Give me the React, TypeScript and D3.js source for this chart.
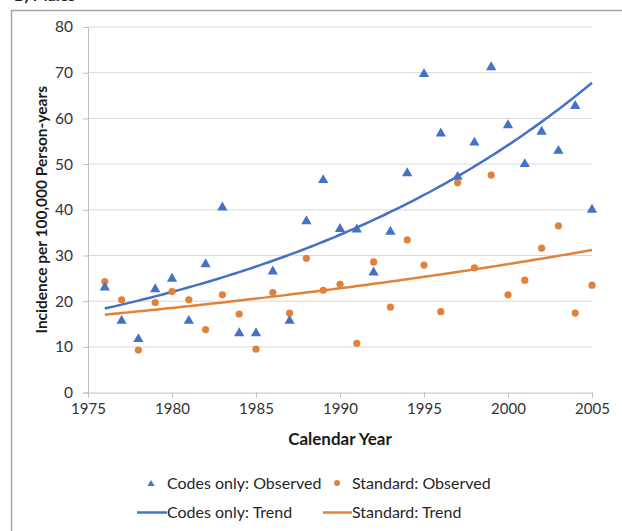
import * as d3 from "d3";
import React, { useRef, useEffect } from "react";

// values
const years = [
  1976, 1977, 1978, 1979, 1980, 1981, 1982, 1983, 1984, 1985,
  1986, 1987, 1988, 1989, 1990, 1991, 1992, 1993, 1994, 1995,
  1996, 1997, 1998, 1999, 2000, 2001, 2002, 2003, 2004, 2005,
];
const codesOnlyObserved = [
  23.0, 15.7, 11.7, 22.6, 24.9, 15.7, 28.1, 40.5, 13.0, 13.0,
  26.5, 15.7, 37.5, 46.5, 35.8, 35.7, 26.3, 35.2, 48.0, 69.7,
  56.7, 47.2, 54.7, 71.2, 58.5, 50.0, 57.1, 52.9, 62.7, 40.0,
];
const standardObserved = [
  24.3, 20.3, 9.3, 19.7, 22.1, 20.3, 13.8, 21.4, 17.2, 9.5,
  21.9, 17.4, 29.4, 22.4, 23.7, 10.8, 28.6, 18.7, 33.4, 27.9,
  17.7, 45.9, 27.3, 47.6, 21.4, 24.6, 31.6, 36.5, 17.4, 23.5,
];
// exponential trend lines: value at first and last year
const codesOnlyTrend = [18.4, 67.8];
const standardTrend = [17.05, 31.2];

const yTicks = [0, 10, 20, 30, 40, 50, 60, 70, 80];
const xTicks = [1975, 1980, 1985, 1990, 1995, 2000, 2005];

const BLUE = "#4472C4";
const ORANGE = "#E0823A";
const FONT = "Lato, 'Liberation Sans', sans-serif";

const W = 622, H = 531;
const m = { l: 88, r: 30, t: 27, b: 138.4 };

const App: React.FC = () => {
  const gx = useRef<SVGGElement>(null);
  const gy = useRef<SVGGElement>(null);

  const x = d3.scaleLinear([1975, 2005], [m.l, W - m.r]);
  const y = d3.scaleLinear([0, 80], [H - m.b, m.t]);

  useEffect(() => {
    if (gx.current) {
      const g = d3.select(gx.current);
      g.call(d3.axisBottom(x).tickValues(xTicks).tickFormat(d3.format("d")).tickSize(5).tickPadding(6));
      g.select(".domain").attr("stroke", "#bfbfbf");
      g.selectAll(".tick line").attr("stroke", "#bfbfbf");
      g.selectAll(".tick text").attr("fill", "#333").style("font-size", "15px").style("font-family", FONT);
    }
    if (gy.current) {
      const g = d3.select(gy.current);
      g.call(d3.axisLeft(y).tickValues(yTicks).tickSize(5).tickPadding(10));
      g.select(".domain").attr("stroke", "#bfbfbf");
      g.selectAll(".tick line").attr("stroke", "#bfbfbf");
      g.selectAll(".tick text").attr("fill", "#333").style("font-size", "15.5px").style("font-family", FONT);
    }
  }, [gx, gy]);

  const trend = (ends: number[]) => {
    const span = years[years.length - 1] - years[0];
    const pts = d3.range(years[0], years[years.length - 1] + 0.01, 0.25).map(t =>
      [t, ends[0] * Math.pow(ends[1] / ends[0], (t - years[0]) / span)] as [number, number]);
    return d3.line<[number, number]>().x(d => x(d[0])).y(d => y(d[1]))(pts) || "";
  };

  const tri = d3.symbol(d3.symbolTriangle, 46)() || "";
  const triSmall = d3.symbol(d3.symbolTriangle, 22)() || "";

  return (
    <svg width={W} height={H} style={{ position: "absolute", left: 0, top: 0, background: "#fff" }} fontFamily={FONT}>
      <text x={14} y={1} fontSize={16} fontWeight="bold" fill="#222">B) Males</text>
      <path d={`M11.5,${H} V10.5 H${W}`} fill="none" stroke="#a6a6a6" strokeWidth={1.5} />

      {yTicks.filter(v => v > 0).map(v => (
        <line key={v} x1={x(1975)} x2={x(2005)} y1={y(v)} y2={y(v)} stroke="#d9d9d9" strokeWidth={1} />
      ))}
      <g ref={gx} transform={`translate(0, ${H - m.b})`} />
      <g ref={gy} transform={`translate(${m.l}, 0)`} />

      <path d={trend(codesOnlyTrend)} fill="none" stroke={BLUE} strokeWidth={2.5} />
      <path d={trend(standardTrend)} fill="none" stroke={ORANGE} strokeWidth={2.5} />

      {years.map((yr, i) => (
        <circle key={"s" + yr} cx={x(yr)} cy={y(standardObserved[i])} r={3.6} fill={ORANGE} />
      ))}
      {years.map((yr, i) => (
        <path key={"c" + yr} d={tri} transform={`translate(${x(yr)}, ${y(codesOnlyObserved[i])})`} fill={BLUE} />
      ))}

      <text x={340} y={445} textAnchor="middle" fontSize={17} fontWeight="bold" fill="#1a1a1a">Calendar Year</text>
      <text transform={`translate(47, ${(y(0) + y(80)) / 2}) rotate(-90)`} textAnchor="middle" fontSize={15.5} fontWeight="bold" fill="#1a1a1a">
        Incidence per 100,000 Person-years
      </text>

      <g fontSize={16} fill="#262626">
        <path d={triSmall} transform="translate(151, 484)" fill={BLUE} />
        <text x={167} y={489}>Codes only: Observed</text>
        <circle cx={337} cy={483} r={3} fill={ORANGE} />
        <text x={352} y={489}>Standard: Observed</text>
        <line x1={137} x2={167} y1={512.5} y2={512.5} stroke={BLUE} strokeWidth={2.5} />
        <text x={167} y={518}>Codes only: Trend</text>
        <line x1={323} x2={352} y1={512.5} y2={512.5} stroke={ORANGE} strokeWidth={2.5} />
        <text x={352} y={518}>Standard: Trend</text>
      </g>
    </svg>
  );
};

export default App;
